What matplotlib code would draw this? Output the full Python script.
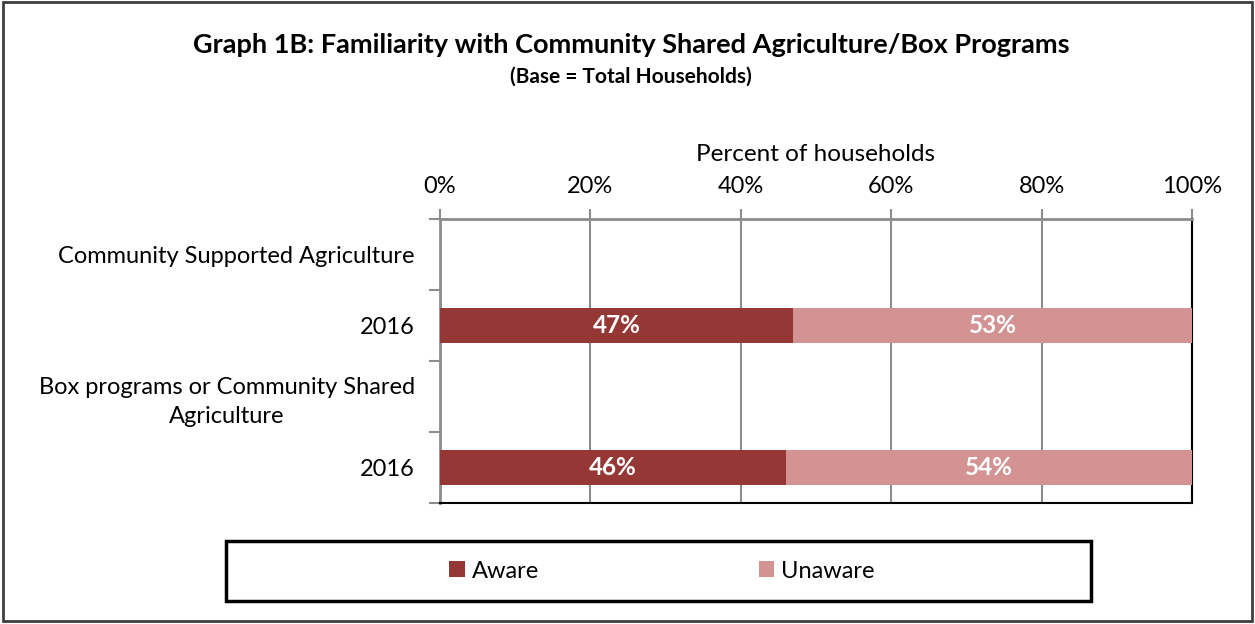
import matplotlib
matplotlib.use("Agg")
import matplotlib.pyplot as plt
from matplotlib.patches import Rectangle

# Data
row_labels = ["Community Supported Agriculture", "2016",
              "Box programs or Community Shared\nAgriculture", "2016"]
bar_rows = [1, 3]
aware = [47, 46]
unaware = [53, 54]
series_names = ["Aware", "Unaware"]
x_ticks = [0, 20, 40, 60, 80, 100]

DARK = "#953735"
LIGHT = "#D39392"
GRID = "#8C8C8C"

plt.rcParams["font.family"] = ["Lato", "DejaVu Sans"]

W, H = 1255, 624
fig = plt.figure(figsize=(W / 100, H / 100), dpi=100)

def px_axes(x0, y0, x1, y1):
    return [x0 / W, 1 - y1 / H, (x1 - x0) / W, (y1 - y0) / H]

# Outer frame
fig.patches.append(Rectangle((3 / W, 3 / H), (W - 6) / W, (H - 5) / H,
                             transform=fig.transFigure, fill=False,
                             edgecolor="#404040", linewidth=2))

fig.text(631 / W, 1 - 45 / H,
         "Graph 1B: Familiarity with Community Shared Agriculture/Box Programs",
         ha="center", va="center", fontsize=19.5, fontweight="bold")
fig.text(631 / W, 1 - 77 / H, "(Base = Total Households)",
         ha="center", va="center", fontsize=15, fontweight="bold")

ax = fig.add_axes(px_axes(440, 219, 1192, 503))
ax.barh(bar_rows, aware, height=0.5, color=DARK, label=series_names[0], zorder=3)
ax.barh(bar_rows, unaware, left=aware, height=0.5, color=LIGHT,
        label=series_names[1], zorder=3)

for r, a, u in zip(bar_rows, aware, unaware):
    ax.text(a / 2, r, f"{a}%", ha="center", va="center", color="white",
            fontsize=17.5, fontweight="bold", zorder=4)
    ax.text(a + u / 2, r, f"{u}%", ha="center", va="center", color="white",
            fontsize=17.5, fontweight="bold", zorder=4)

ax.set_xlim(0, 100)
ax.set_ylim(3.5, -0.5)
ax.xaxis.tick_top()
ax.xaxis.set_label_position("top")
ax.set_xticks(x_ticks)
ax.set_xticklabels([f"{t}%" for t in x_ticks], fontsize=17)
ax.set_xlabel("Percent of households", fontsize=17.5, labelpad=11)
ax.tick_params(axis="x", direction="out", length=7, width=1.5, color=GRID, pad=9)

ax.set_yticks(range(len(row_labels)))
ax.set_yticklabels(row_labels, fontsize=17, multialignment="center",
                   linespacing=1.45)
ax.tick_params(axis="y", which="major", length=0, pad=18)
ax.set_yticks([-0.5, 0.5, 1.5, 2.5, 3.5], minor=True)
ax.tick_params(axis="y", which="minor", direction="out", length=8, width=1.5,
               color=GRID)

ax.grid(axis="x", color=GRID, linewidth=1.5, zorder=1)
ax.set_axisbelow(True)
for side in ("top", "left"):
    ax.spines[side].set_color(GRID)
    ax.spines[side].set_linewidth(2)
for side in ("right", "bottom"):
    ax.spines[side].set_color("black")
    ax.spines[side].set_linewidth(1.5)

# Legend in a framed box below the plot
handles, labels = ax.get_legend_handles_labels()
leg = fig.legend(handles, labels, loc="center",
                 bbox_to_anchor=(662 / W, 1 - 571 / H), ncol=2,
                 fontsize=17, frameon=False, handlelength=0.65,
                 handleheight=0.65, handletextpad=0.3, columnspacing=9.3)
fig.patches.append(Rectangle((226 / W, 1 - 601 / H), (1091 - 226) / W, 60 / H,
                             transform=fig.transFigure, fill=False,
                             edgecolor="black", linewidth=2.5))

fig.savefig("out.png", dpi=100)
